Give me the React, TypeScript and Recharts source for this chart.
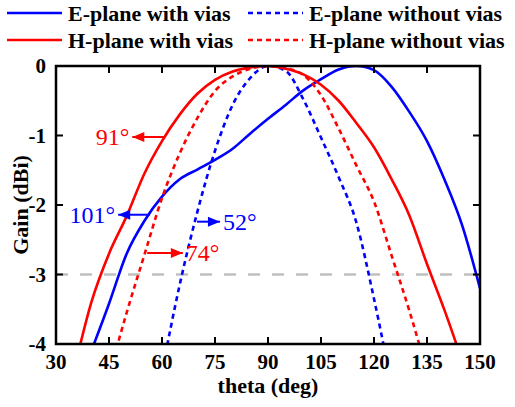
import {
  Legend,
  Line,
  LineChart,
  ReferenceDot,
  ReferenceLine,
  XAxis,
  YAxis,
} from "recharts";

const theta = [
  30, 35, 40, 45, 50, 55, 60, 65, 70, 75, 80, 85, 90, 95, 100, 105, 110, 115,
  120, 125, 130, 135, 140, 145, 150,
];

// gain in dBi, null where the curve is out of the plotted range
const eWithVias = [
  null, null, -4.1, -3.42, -2.7, -2.23, -1.88, -1.63, -1.49, -1.35, -1.19,
  -0.97, -0.76, -0.56, -0.35, -0.19, -0.05, 0, -0.06, -0.3, -0.66, -1.08,
  -1.64, -2.3, -3.2,
];
const eWithoutVias = [
  null, null, null, null, null, null, -4.4, -3.15, -2.1, -1.22, -0.56, -0.17,
  0, -0.07, -0.48, -1.03, -1.6, -2.25, -3.35, -4.6, null, null, null, null,
  null,
];
const hWithVias = [
  null, -4.4, -3.4, -2.7, -2.16, -1.55, -1.08, -0.7, -0.4, -0.2, -0.08, -0.02,
  0, -0.04, -0.12, -0.27, -0.5, -0.82, -1.17, -1.63, -2.15, -2.85, -3.52,
  -4.25, null,
];
const hWithoutVias = [
  null, null, null, -4.45, -3.55, -2.72, -1.9, -1.26, -0.75, -0.36, -0.15,
  -0.04, 0, -0.03, -0.13, -0.42, -0.9, -1.43, -1.95, -2.73, -3.52, -4.4, null,
  null, null,
];

const xTicks = [30, 45, 60, 75, 90, 105, 120, 135, 150];
const yTicks = [-4, -3, -2, -1, 0];
const X_MIN = 30;
const X_MAX = 150;
const Y_MIN = -4;
const Y_MAX = 0;

// beamwidth notes: arrow from curve (from) to tip (to) at gain y
const beamwidths = [
  { label: "91°", color: "#ff0000", y: -1.02, from: 60.9, to: 51.6 },
  { label: "101°", color: "#0000ff", y: -2.14, from: 56.6, to: 47.6 },
  { label: "52°", color: "#0000ff", y: -2.24, from: 69.9, to: 76.4 },
  { label: "74°", color: "#ff0000", y: -2.69, from: 55.8, to: 65.9 },
];

const FONT = "Liberation Serif, Times New Roman, serif";
const BLUE = "#0000ff";
const RED = "#ff0000";
const DASH = "5 4";

const series = [
  { key: "eWith", name: "E-plane with vias", color: BLUE, dash: undefined },
  { key: "eWithout", name: "E-plane without vias", color: BLUE, dash: DASH },
  { key: "hWith", name: "H-plane with vias", color: RED, dash: undefined },
  { key: "hWithout", name: "H-plane without vias", color: RED, dash: DASH },
];

const data = theta.map((t, i) => ({
  theta: t,
  eWith: eWithVias[i],
  eWithout: eWithoutVias[i],
  hWith: hWithVias[i],
  hWithout: hWithoutVias[i],
}));

// chart layout
const W = 515;
const H = 407;
const MARGIN = { top: 66, right: 35, bottom: 0, left: 0 };
const Y_AXIS_W = 56;
const X_AXIS_H = 63;
const plot = {
  x: MARGIN.left + Y_AXIS_W,
  y: MARGIN.top,
  w: W - MARGIN.left - Y_AXIS_W - MARGIN.right,
  h: H - MARGIN.top - MARGIN.bottom - X_AXIS_H,
};
const TICK_LEN = 7;

const tickFont = {
  fill: "#000",
  fontSize: 21,
  fontWeight: "bold",
  style: { fontFamily: FONT },
};

// frame and inward ticks on all four sides, drawn over the chart
function AxisBox() {
  const px = (t: number) =>
    plot.x + ((t - X_MIN) / (X_MAX - X_MIN)) * plot.w;
  const py = (v: number) =>
    plot.y + ((Y_MAX - v) / (Y_MAX - Y_MIN)) * plot.h;
  const bottom = plot.y + plot.h;
  const right = plot.x + plot.w;
  return (
    <svg
      width={W}
      height={H}
      style={{ position: "absolute", left: 0, top: 0, pointerEvents: "none" }}
    >
      <g stroke="#000" strokeWidth={2}>
        {xTicks.slice(1, -1).map((t) => (
          <g key={"x" + t}>
            <line x1={px(t)} x2={px(t)} y1={bottom} y2={bottom - TICK_LEN} />
            <line x1={px(t)} x2={px(t)} y1={plot.y} y2={plot.y + TICK_LEN} />
          </g>
        ))}
        {yTicks.slice(1, -1).map((v) => (
          <g key={"y" + v}>
            <line x1={plot.x} x2={plot.x + TICK_LEN} y1={py(v)} y2={py(v)} />
            <line x1={right} x2={right - TICK_LEN} y1={py(v)} y2={py(v)} />
          </g>
        ))}
      </g>
      <rect
        x={plot.x}
        y={plot.y}
        width={plot.w}
        height={plot.h}
        fill="none"
        stroke="#000"
        strokeWidth={2.5}
      />
    </svg>
  );
}

function LegendBox() {
  const rows = [series.slice(0, 2), series.slice(2, 4)];
  const cols = [7, 248];
  return (
    <svg width={W} height={55}>
      {rows.map((row, r) =>
        row.map((s, c) => {
          const y = 13 + r * 27;
          const x = cols[c];
          return (
            <g key={s.key}>
              <line
                x1={x}
                x2={x + 55}
                y1={y}
                y2={y}
                stroke={s.color}
                strokeWidth={2.5}
                strokeDasharray={s.dash}
              />
              <text
                x={x + 61}
                y={y + 8}
                style={{ fontFamily: FONT }}
                fontWeight="bold"
                fontSize={22}
                fill="#000"
              >
                {s.name}
              </text>
            </g>
          );
        }),
      )}
    </svg>
  );
}

function arrowHead(color: string, dir: number, label: string) {
  return (props: any) => {
    const { cx, cy } = props;
    return (
      <g>
        <polygon
          points={`${cx},${cy} ${cx - dir * 12},${cy - 5} ${cx - dir * 12},${cy + 5}`}
          fill={color}
        />
        <text
          x={cx + dir * 3}
          y={cy}
          textAnchor={dir < 0 ? "end" : "start"}
          dominantBaseline="central"
          style={{ fontFamily: FONT }}
          fontSize={24}
          fill={color}
        >
          {label}
        </text>
      </g>
    );
  };
}

export default function App() {
  return (
    <div
      style={{
        position: "absolute",
        left: 0,
        top: 0,
        width: W,
        height: H,
        background: "#fff",
      }}
    >
      <LineChart width={W} height={H} data={data} margin={MARGIN}>
        <XAxis
          dataKey="theta"
          type="number"
          domain={[X_MIN, X_MAX]}
          ticks={xTicks}
          allowDataOverflow
          height={X_AXIS_H}
          tickSize={-TICK_LEN}
          tickMargin={17}
          axisLine={false}
          tickLine={false}
          tick={tickFont}
          label={{
            value: "theta (deg)",
            position: "insideBottom",
            offset: 14,
            fill: "#000",
            fontSize: 22,
            fontWeight: "bold",
            style: { fontFamily: FONT },
          }}
        />
        <YAxis
          type="number"
          domain={[Y_MIN, Y_MAX]}
          ticks={yTicks}
          allowDataOverflow
          width={Y_AXIS_W}
          tickSize={-TICK_LEN}
          tickMargin={17}
          axisLine={false}
          tickLine={false}
          tick={tickFont}
          label={{
            value: "Gain (dBi)",
            angle: -90,
            position: "insideLeft",
            offset: 20,
            fill: "#000",
            fontSize: 22,
            fontWeight: "bold",
            style: { textAnchor: "middle", fontFamily: FONT },
          }}
        />
        <ReferenceLine
          y={-3}
          stroke="#c0c0c0"
          strokeWidth={2.5}
          strokeDasharray="12 12"
        />
        {series.map((s) => (
          <Line
            key={s.key}
            type="monotone"
            dataKey={s.key}
            name={s.name}
            stroke={s.color}
            strokeWidth={2.6}
            strokeDasharray={s.dash}
            dot={false}
            activeDot={false}
            isAnimationActive={false}
          />
        ))}
        {beamwidths.map((b) => (
          <ReferenceLine
            key={b.label + "-shaft"}
            segment={[
              { x: b.from, y: b.y },
              { x: b.to, y: b.y },
            ]}
            stroke={b.color}
            strokeWidth={2}
          />
        ))}
        {beamwidths.map((b) => (
          <ReferenceDot
            key={b.label + "-tip"}
            x={b.to}
            y={b.y}
            shape={arrowHead(b.color, Math.sign(b.to - b.from), b.label)}
          />
        ))}
        <Legend
          verticalAlign="middle"
          align="center"
          layout="horizontal"
          wrapperStyle={{ top: 0, left: 0, width: W, height: 55 }}
          content={() => <LegendBox />}
        />
      </LineChart>
      <AxisBox />
    </div>
  );
}
